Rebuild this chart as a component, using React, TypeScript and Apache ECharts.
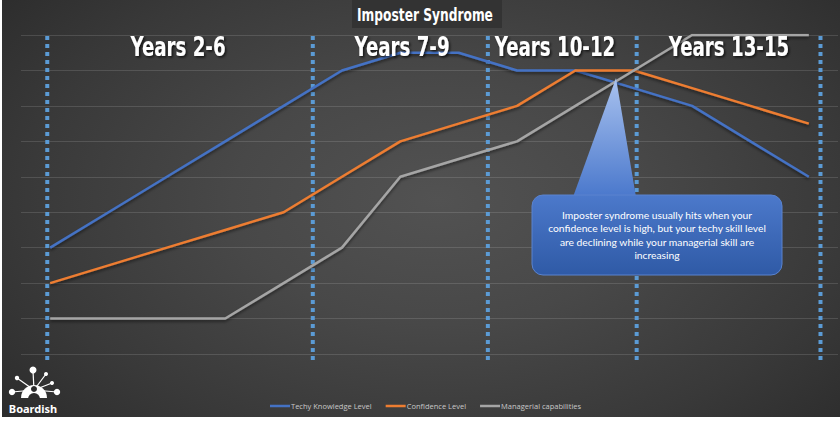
import React, { useEffect, useRef } from "react";
import * as echarts from "echarts";

const years = [2, 3, 4, 5, 6, 7, 8, 9, 10, 11, 12, 13, 14, 15];
const techy = [3, 4, 5, 6, 7, 8, 8.5, 8.5, 8, 8, 7.5, 7, 6, 5];
const confidence = [2, 2.5, 3, 3.5, 4, 5, 6, 6.5, 7, 8, 8, 7.5, 7, 6.5];
const managerial = [1, 1, 1, 1, 2, 3, 5, 5.5, 6, 7, 8, 9, 9, 9];
const seriesNames = ["Techy Knowledge Level", "Confidence Level", "Managerial capabilities"];
const dividers = [1.95, 6.5, 9.5, 12.05, 15.2];
const dividerSpan = [-0.17, 9.03];
const phaseLabels = ["Years 2-6", "Years 7-9", "Years 10-12", "Years 13-15"];
const phaseX = [178, 402, 555, 729];
const titleText = "Imposter Syndrome";
const calloutText =
  "Imposter syndrome usually hits when your\nconfidence level is high, but your techy skill level\nare declining while your managerial skill are\nincreasing";

const heavy = "'DejaVu Sans', sans-serif";

export default function App() {
  const ref = useRef<HTMLDivElement>(null);
  useEffect(() => {
    document.body.style.margin = "0";
    const chart = echarts.init(ref.current!, null, { renderer: "svg" });
    const pair = (arr: number[]) => arr.map((v, i) => [years[i], v]);
    const lineCommon = (name: string, data: number[], color: string) => ({
      name,
      type: "line",
      data: pair(data),
      symbol: "none",
      z: 3,
      lineStyle: {
        width: 2.5,
        color,
        shadowColor: "rgba(0,0,0,0.5)",
        shadowBlur: 3,
        shadowOffsetY: 2,
      },
      itemStyle: { color },
    });
    const dividerSeries = dividers.map((x, i) => ({
      name: "divider" + i,
      type: "line",
      data: dividerSpan.map((y) => [x, y]),
      symbol: "none",
      clip: false,
      silent: true,
      z: 2,
      lineStyle: { color: "#5b9bd5", width: 4, type: [4, 4], cap: "butt" },
    }));
    const graphics: any[] = [
      {
        type: "rect",
        shape: { x: 352, y: 0, width: 150, height: 28 },
        style: { fill: "#333333" },
        z: 50,
      },
      {
        type: "text",
        x: 425,
        y: 15,
        scaleX: 0.72,
        style: {
          text: titleText,
          fill: "#ffffff",
          font: `bold 17px ${heavy}`,
          align: "center",
          verticalAlign: "middle",
        },
        z: 51,
      },
      ...phaseLabels.map((t, i) => ({
        type: "text",
        x: phaseX[i],
        y: 47,
        scaleX: 0.675,
        style: {
          text: t,
          fill: "#ffffff",
          font: `bold 27px ${heavy}`,
          align: "center",
          verticalAlign: "middle",
          textShadowColor: "rgba(0,0,0,0.7)",
          textShadowBlur: 2,
          textShadowOffsetX: 1.5,
          textShadowOffsetY: 1.5,
        },
        z: 60,
      })),
      {
        type: "polygon",
        shape: { points: [[616, 78], [573, 197], [636, 197]] },
        style: {
          fill: new echarts.graphic.LinearGradient(0, 0, 0, 1, [
            { offset: 0, color: "#a9c2ef" },
            { offset: 1, color: "#4a78cc" },
          ]),
        },
        z: 100,
      },
      {
        type: "rect",
        shape: { x: 532, y: 195, width: 250, height: 80, r: 11 },
        style: {
          fill: new echarts.graphic.LinearGradient(0, 0, 0, 1, [
            { offset: 0, color: "#4c79cb" },
            { offset: 1, color: "#2f5aa6" },
          ]),
          stroke: "#5a83cf",
          lineWidth: 1,
        },
        z: 101,
      },
      {
        type: "text",
        x: 657,
        y: 235,
        style: {
          text: calloutText,
          fill: "#ffffff",
          font: "10.3px Lato, 'Open Sans', sans-serif",
          align: "center",
          verticalAlign: "middle",
          lineHeight: 13.5,
        },
        z: 102,
      },
      // Boardish logo
      {
        type: "group",
        z: 110,
        children: [
          { type: "line", shape: { x1: 34, y1: 390, x2: 12, y2: 392 }, style: { stroke: "#fff", lineWidth: 1.2 } },
          { type: "line", shape: { x1: 34, y1: 390, x2: 17, y2: 378 }, style: { stroke: "#fff", lineWidth: 1.2 } },
          { type: "line", shape: { x1: 34, y1: 390, x2: 33, y2: 371 }, style: { stroke: "#fff", lineWidth: 1.2 } },
          { type: "line", shape: { x1: 34, y1: 390, x2: 46, y2: 374 }, style: { stroke: "#fff", lineWidth: 1.2 } },
          { type: "line", shape: { x1: 34, y1: 390, x2: 52, y2: 383 }, style: { stroke: "#fff", lineWidth: 1.2 } },
          { type: "line", shape: { x1: 34, y1: 390, x2: 57, y2: 392 }, style: { stroke: "#fff", lineWidth: 1.2 } },
          { type: "circle", shape: { cx: 12, cy: 392, r: 3.2 }, style: { fill: "#fff" } },
          { type: "circle", shape: { cx: 17, cy: 378, r: 2.2 }, style: { fill: "#fff" } },
          { type: "circle", shape: { cx: 33, cy: 370, r: 3.5 }, style: { fill: "#fff" } },
          { type: "circle", shape: { cx: 46, cy: 374, r: 2 }, style: { fill: "#fff" } },
          { type: "circle", shape: { cx: 52, cy: 383, r: 2 }, style: { fill: "#fff" } },
          { type: "circle", shape: { cx: 57, cy: 392, r: 3.2 }, style: { fill: "#fff" } },
          {
            type: "sector",
            shape: { cx: 34, cy: 398, r0: 0, r: 13, startAngle: Math.PI, endAngle: Math.PI * 2 },
            style: { fill: "#fff" },
          },
          { type: "circle", shape: { cx: 34, cy: 389, r: 3 }, style: { fill: "#2d2d2d" } },
          {
            type: "sector",
            shape: { cx: 34, cy: 399, r0: 0, r: 6, startAngle: Math.PI, endAngle: Math.PI * 2 },
            style: { fill: "#2d2d2d" },
          },
          {
            type: "text",
            x: 33,
            y: 408,
            style: {
              text: "Boardish",
              fill: "#fff",
              font: "bold 11px 'Noto Sans', sans-serif",
              align: "center",
              verticalAlign: "middle",
            },
          },
        ],
      },
    ];

    chart.setOption({
      animation: false,
      backgroundColor: "transparent",
      grid: { left: 21, right: 2, top: 35, bottom: 76 },
      xAxis: {
        type: "value",
        min: 1.5,
        max: 15.5,
        show: false,
        splitLine: { show: false },
      },
      yAxis: {
        type: "value",
        min: 0,
        max: 9,
        interval: 1,
        axisLabel: { show: false },
        axisLine: { show: false },
        axisTick: { show: false },
        splitLine: { lineStyle: { color: "rgba(255,255,255,0.13)", width: 1 } },
      },
      legend: {
        data: seriesNames,
        top: 397,
        left: 265,
        icon: "rect",
        itemWidth: 20,
        itemHeight: 2.5,
        itemGap: 14,
        textStyle: { color: "#c8c8c8", fontSize: 7.5, fontFamily: "'Open Sans', sans-serif", padding: [0, 0, 0, -4] },
      },
      graphic: graphics,
      series: [
        ...dividerSeries,
        lineCommon(seriesNames[0], techy, "#4472c4"),
        lineCommon(seriesNames[1], confidence, "#ed7d31"),
        lineCommon(seriesNames[2], managerial, "#a5a5a5"),
      ],
    });
    return () => chart.dispose();
  }, []);

  return (
    <div style={{ position: "relative", width: 840, height: 430, background: "#ffffff" }}>
      <div
        style={{
          position: "absolute",
          left: 2,
          top: 0,
          width: 838,
          height: 417,
          background:
            "radial-gradient(ellipse 70% 85% at 52% 48%, #525252 0%, #484848 35%, #393939 70%, #2a2a2a 100%)",
        }}
      />
      <div ref={ref} style={{ position: "absolute", left: 0, top: 0, width: 840, height: 430 }} />
    </div>
  );
}
